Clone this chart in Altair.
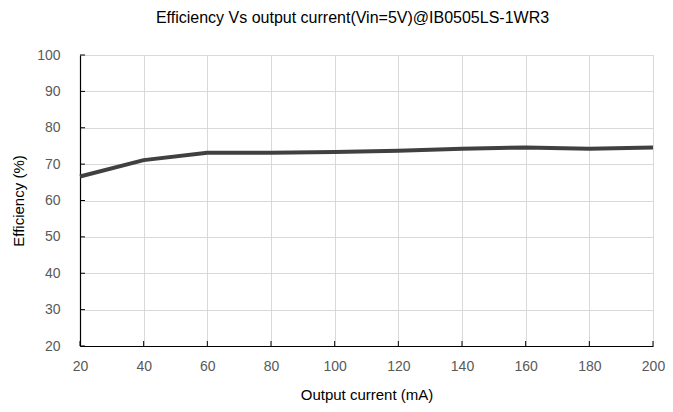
import altair as alt
import pandas as pd

current = [20, 40, 60, 80, 100, 120, 140, 160, 180, 200]
efficiency = [66.6, 71.1, 73.1, 73.1, 73.3, 73.7, 74.2, 74.6, 74.2, 74.6]
x_ticks = [20, 40, 60, 80, 100, 120, 140, 160, 180, 200]
y_ticks = [20, 30, 40, 50, 60, 70, 80, 90, 100]

df = pd.DataFrame({"current": current, "efficiency": efficiency})
xt = pd.DataFrame({"current": x_ticks})
yt = pd.DataFrame({"efficiency": y_ticks})

FONT = "Liberation Sans"
W, H = 573, 291

xscale = alt.Scale(domain=[20, 200], nice=False, zero=False)
yscale = alt.Scale(domain=[20, 100], nice=False, zero=False)

xaxis = alt.Axis(
    values=x_ticks, title="Output current (mA)", grid=True, gridColor="#d9d9d9",
    domainColor="#000000", domainWidth=1.2, ticks=False, labelPadding=13,
    labelFlush=False, labelOverlap=False, labelBound=False,
    labelFont=FONT, labelFontSize=14, labelColor="#595959",
    titleFont=FONT, titleFontSize=15, titleFontWeight="normal", titleColor="#000000",
    titlePadding=14)
yaxis = alt.Axis(
    values=y_ticks, title="Efficiency (%)", grid=True, gridColor="#d9d9d9",
    domainColor="#000000", domainWidth=1.2, ticks=False, labelPadding=20,
    labelFlush=False, labelOverlap=False, labelBound=False,
    labelFont=FONT, labelFontSize=14, labelColor="#595959",
    titleFont=FONT, titleFontSize=15, titleFontWeight="normal", titleColor="#000000",
    titlePadding=10)

line = alt.Chart(df).mark_line(
    color="#404040", strokeWidth=4, strokeCap="butt", strokeJoin="round"
).encode(
    x=alt.X("current:Q", scale=xscale, axis=xaxis),
    y=alt.Y("efficiency:Q", scale=yscale, axis=yaxis),
)

xtick = alt.Chart(xt).mark_rule(color="#000000", strokeWidth=1).encode(
    x=alt.X("current:Q", scale=xscale, axis=xaxis), y=alt.value(H - 5), y2=alt.value(H)
)
ytick = alt.Chart(yt).mark_rule(color="#000000", strokeWidth=1).encode(
    y=alt.Y("efficiency:Q", scale=yscale, axis=yaxis), x=alt.value(0), x2=alt.value(5)
)

chart = alt.layer(line, xtick, ytick).properties(
    width=W, height=H,
    title=alt.TitleParams(
        "Efficiency Vs output current(Vin=5V)@IB0505LS-1WR3",
        font=FONT, fontSize=16, fontWeight="normal", color="#000000",
        anchor="middle", dx=-14, offset=22),
    autosize=alt.AutoSizeParams(type="none"),
    padding={"left": 72, "top": 47, "right": 12, "bottom": 58},
).configure_view(stroke=None).configure(background="#ffffff")

chart.save("out.html", embed_options={"renderer": "svg", "actions": False})
